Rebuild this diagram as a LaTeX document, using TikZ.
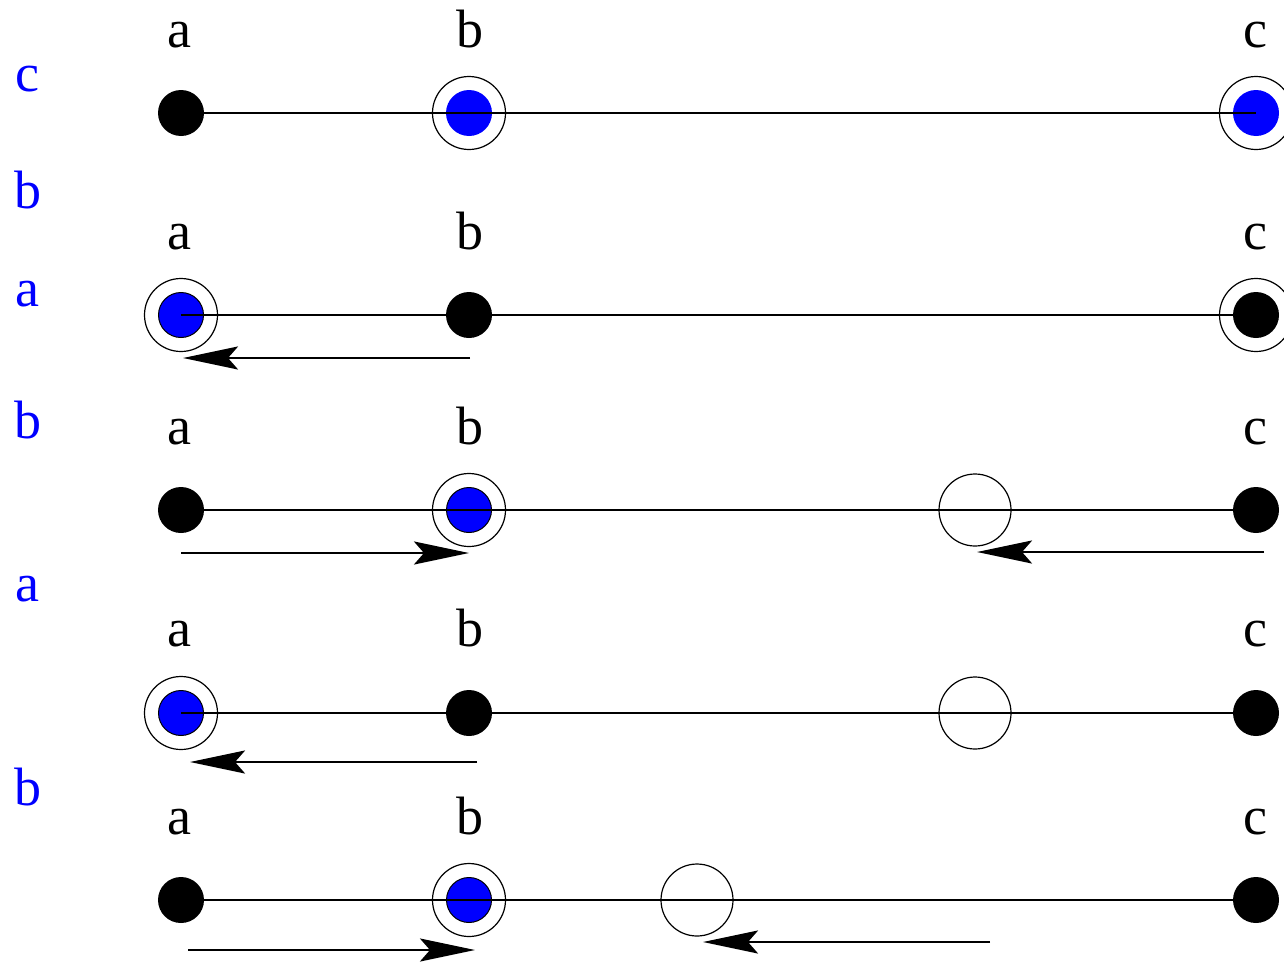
\documentclass[tikz,border=0pt]{standalone}
\usepackage{fontspec}
\setmainfont{Liberation Serif}
\usetikzlibrary{arrows.meta}
\begin{document}
\begin{tikzpicture}[x=1pt,y=-1pt,
  lbl/.style={anchor=base,inner sep=0pt,font=\fontsize{54}{60}\selectfont},
  blbl/.style={lbl,text=blue},
  blackdot/.style={circle,fill=black,minimum size=46pt,inner sep=0pt},
  bluedot/.style={circle,fill=blue,minimum size=46pt,inner sep=0pt},
  bluedotline/.style={circle,fill=blue,draw=black,line width=1pt,minimum size=45pt,inner sep=0pt},
  ring/.style={circle,draw=black,line width=1.2pt,minimum size=73pt,inner sep=0pt},
  hole/.style={circle,draw=black,line width=1.2pt,minimum size=72pt,inner sep=0pt},
  track/.style={line width=1.1pt,draw=black},
  move/.style={line width=2.6pt,-{Stealth[length=55pt,width=23pt,inset=10pt]}}]
\useasboundingbox (0,0) rectangle (1284,961);

% step labels on the left
\node[blbl] (s1) at (27,91)  {c};
\node[blbl] (s2) at (28,208) {b};
\node[blbl] (s3) at (27,306) {a};
\node[blbl] (s4) at (28,438) {b};
\node[blbl] (s5) at (27,601) {a};
\node[blbl] (s6) at (28,805) {b};

% vertex labels for every row
\foreach \r/\yb in {1/47,2/249,3/444,4/646,5/834}{
  \node[lbl] (la\r) at (179,\yb)  {a};
  \node[lbl] (lb\r) at (470,\yb)  {b};
  \node[lbl] (lc\r) at (1255,\yb) {c};
}

% vertex positions
\foreach \r/\y in {1/113,2/315,3/510,4/713,5/900}{
  \coordinate (a\r) at (181,\y);
  \coordinate (b\r) at (469,\y);
  \coordinate (c\r) at (1256,\y);
}

% row 1
\node[ring] (rb1) at (b1) {};
\node[ring] (rc1) at (c1) {};
\node[bluedot] (db1) at (b1) {};
\node[bluedot] (dc1) at (c1) {};
\draw[track] (a1) -- (c1);
\node[blackdot] (da1) at (a1) {};

% row 2
\node[ring] (ra2) at (a2) {};
\node[ring] (rc2) at (c2) {};
\node[bluedotline] (da2) at (a2) {};
\draw[track] (a2) -- (c2);
\node[blackdot] (db2) at (b2) {};
\node[blackdot] (dc2) at (c2) {};
\coordinate (m2s) at (470,358);
\coordinate (m2e) at (183,358);
\draw[move] (m2s) -- (m2e);

% row 3
\node[ring] (rb3) at (b3) {};
\node[bluedotline] (db3) at (b3) {};
\draw[track] (a3) -- (c3);
\node[blackdot] (da3) at (a3) {};
\node[blackdot] (dc3) at (c3) {};
\node[hole] (h3) at (975,510) {};
\coordinate (m3s) at (181,553);
\coordinate (m3e) at (469,553);
\draw[move] (m3s) -- (m3e);
\coordinate (n3s) at (1264,552);
\coordinate (n3e) at (977,552);
\draw[move] (n3s) -- (n3e);

% row 4
\node[ring] (ra4) at (a4) {};
\node[bluedotline] (da4) at (a4) {};
\draw[track] (a4) -- (c4);
\node[blackdot] (db4) at (b4) {};
\node[blackdot] (dc4) at (c4) {};
\node[hole] (h4) at (975,713) {};
\coordinate (m4s) at (477,762);
\coordinate (m4e) at (190,762);
\draw[move] (m4s) -- (m4e);

% row 5
\node[ring] (rb5) at (b5) {};
\node[bluedotline] (db5) at (b5) {};
\draw[track] (a5) -- (c5);
\node[blackdot] (da5) at (a5) {};
\node[blackdot] (dc5) at (c5) {};
\node[hole] (h5) at (697,900) {};
\coordinate (m5s) at (188,950);
\coordinate (m5e) at (475,950);
\draw[move] (m5s) -- (m5e);
\coordinate (n5s) at (990,942);
\coordinate (n5e) at (703,942);
\draw[move] (n5s) -- (n5e);
\end{tikzpicture}
\end{document}
